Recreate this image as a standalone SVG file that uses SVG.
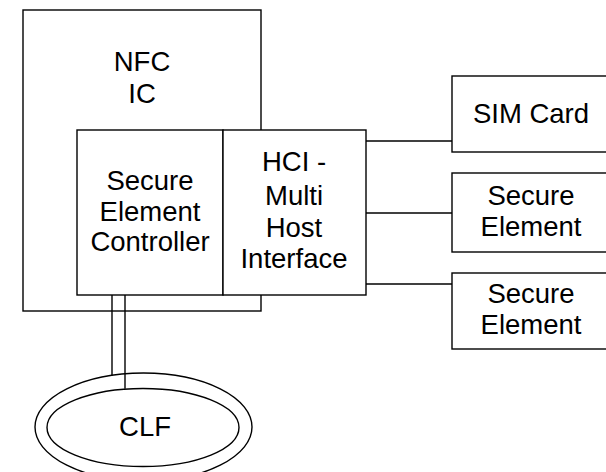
<svg xmlns="http://www.w3.org/2000/svg" width="606" height="472" viewBox="0 0 606 472">
<style>
.b{fill:#fff;stroke:#000;stroke-width:1.4}
.l{fill:none;stroke:#000;stroke-width:1.4}
text{font-family:"Liberation Sans",Arial,sans-serif;font-size:27.5px;fill:#000;text-anchor:middle}
</style>
<rect width="606" height="472" fill="#fff"/>
<g id="nfc-ic"><rect class="b" x="23" y="10" width="238" height="301"/><text x="142" y="71">NFC</text><text x="142" y="103">IC</text></g>
<g id="connectors">
<line class="l" x1="366" y1="141" x2="452" y2="141"/>
<line class="l" x1="366" y1="213" x2="452" y2="213"/>
<line class="l" x1="366" y1="284" x2="452" y2="284"/>
<line class="l" x1="112" y1="295" x2="112" y2="375.5"/>
<line class="l" x1="125" y1="295" x2="125" y2="388.7"/>
</g>
<g id="sec"><rect class="b" x="77" y="130" width="146" height="165"/><text x="150" y="190">Secure</text><text x="150" y="221">Element</text><text x="150" y="251">Controller</text></g>
<g id="hci"><rect class="b" x="223" y="130" width="143" height="165"/><text x="294" y="171">HCI -</text><text x="294" y="205">Multi</text><text x="294" y="237">Host</text><text x="294" y="268">Interface</text></g>
<g id="sim"><rect class="b" x="452" y="76" width="158" height="76"/><text x="531" y="123">SIM Card</text></g>
<g id="se1"><rect class="b" x="452" y="173" width="158" height="79"/><text x="531" y="205">Secure</text><text x="531" y="236">Element</text></g>
<g id="se2"><rect class="b" x="452" y="273" width="158" height="76"/><text x="531" y="303">Secure</text><text x="531" y="334">Element</text></g>
<g id="clf"><ellipse class="l" cx="143.5" cy="427" rx="108.5" ry="54"/><ellipse class="l" cx="143" cy="427.5" rx="96" ry="39"/><text x="145" y="436">CLF</text></g>
</svg>
